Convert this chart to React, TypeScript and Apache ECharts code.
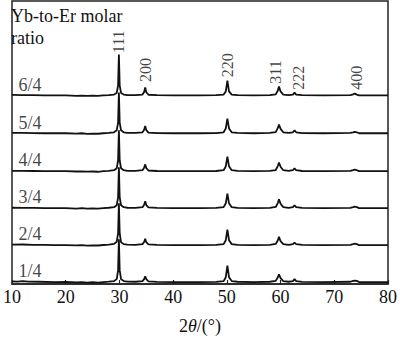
import React, { useEffect, useRef } from "react";
import * as echarts from "echarts";

const ratioLabels = ["1/4", "2/4", "3/4", "4/4", "5/4", "6/4"];
const offsets = [2, 40, 78, 116, 155, 194];

// [2θ, intensity] traces (intensity in plot units)
const s14 = [[10,0.8],[11,0.5],[12,1],[13,0.4],[15,0.3],[18,0],[20,0.2],[22,-0.4],[23,0],[24,-0.5],[25,-0.2],[26,-0.5],[27,0],[28,0.4],[29,1],[29.5,3],[29.75,12],[29.9,44],[30.05,12],[30.3,3],[30.8,1],[31.5,0.4],[33,0.3],[34.3,1],[34.6,3],[34.8,6],[35,3],[35.4,0.7],[37,0.2],[40,0],[45,0],[48,0.2],[49.4,1],[49.8,5],[50.1,17],[50.4,5],[50.9,1],[52,0.3],[55,0],[58,0.3],[59.1,1.2],[59.5,5],[59.7,8],[60,4],[60.5,1],[61.5,0.3],[62.3,1],[62.6,3],[62.9,1],[64,0.2],[68,0],[73,0.3],[73.5,1.2],[73.8,1.5],[74.2,1.2],[74.6,0],[80,0]];
const s24 = [[10,0.5],[12,0.6],[14,0.3],[16,0.2],[18,0],[20,0],[22,-0.3],[23,-0.1],[24,-0.6],[25,-0.2],[26,-0.4],[27,0.1],[28,0.5],[29,1.2],[29.5,3.5],[29.75,12],[29.9,43],[30.05,12],[30.3,3],[30.8,1],[31.5,0.4],[33,0.3],[34.3,1],[34.6,3.2],[34.8,6.5],[35,3],[35.4,0.7],[37,0.2],[40,0],[45,0],[48,0.2],[49.4,1],[49.8,5],[50.1,16],[50.4,5],[50.9,1],[52,0.3],[55,0],[58,0.3],[59.1,1.2],[59.5,5],[59.7,8.5],[60,4],[60.5,1],[61.5,0.3],[62.3,1],[62.6,2.5],[62.9,1],[64,0.2],[68,0],[73,0.3],[73.5,1],[73.8,1.5],[74.2,1],[74.6,0],[80,0]];
const s34 = [[10,0.4],[12,0.3],[14,0.2],[16,0],[18,0],[20,0],[22,-0.4],[23,0],[24,-0.5],[25,-0.3],[26,-0.5],[27,0],[28,0.4],[29,1],[29.5,3],[29.75,11],[29.9,42],[30.05,11],[30.3,3],[30.8,1],[31.5,0.4],[33,0.3],[34.3,1],[34.6,3.5],[34.8,7],[35,3.2],[35.4,0.7],[37,0.2],[40,0],[45,0],[48,0.2],[49.4,1],[49.8,5],[50.1,15],[50.4,5],[50.9,1],[52,0.3],[55,0],[58,0.3],[59.1,1.2],[59.5,5.5],[59.7,9],[60,4.5],[60.5,1],[61.5,0.3],[62.3,1],[62.6,3],[62.9,1],[64,0.2],[68,0],[73,0.3],[73.5,1],[73.8,1.5],[74.2,1],[74.6,0],[80,0]];
const s44 = [[10,0.4],[12,0.3],[14,0.2],[16,0],[18,0],[20,0],[22,-0.3],[23,-0.1],[24,-0.5],[25,-0.3],[26,-0.6],[27,0],[28,0.4],[29,1],[29.5,3],[29.75,11],[29.9,42],[30.05,11],[30.3,3],[30.8,1],[31.5,0.4],[33,0.3],[34.3,1],[34.6,3.5],[34.8,7],[35,3.2],[35.4,0.7],[37,0.2],[40,0],[45,0],[48,0.2],[49.4,1],[49.8,5],[50.1,15],[50.4,5],[50.9,1],[52,0.3],[55,0],[58,0.3],[59.1,1.2],[59.5,5.5],[59.7,9],[60,4.5],[60.5,1],[61.5,0.3],[62.3,1],[62.6,2.8],[62.9,1],[64,0.2],[68,0],[73,0.3],[73.5,1],[73.8,1.5],[74.2,1],[74.6,0],[80,0]];
const s54 = [[10,0.4],[12,0.3],[14,0.2],[16,0],[18,0],[20,0],[22,-0.4],[23,0],[24,-0.6],[25,-0.3],[26,-0.5],[27,0],[28,0.4],[29,1],[29.5,3],[29.75,11],[29.9,42],[30.05,11],[30.3,3],[30.8,1],[31.5,0.4],[33,0.3],[34.3,1],[34.6,3.5],[34.8,7.5],[35,3.2],[35.4,0.7],[37,0.2],[40,0],[45,0],[48,0.2],[49.4,1],[49.8,5],[50.1,15],[50.4,5],[50.9,1],[52,0.3],[55,0],[58,0.3],[59.1,1.2],[59.5,5.5],[59.7,9],[60,4.5],[60.5,1],[61.5,0.3],[62.3,1],[62.6,3],[62.9,1],[64,0.2],[68,0],[73,0.3],[73.5,1],[73.8,1.5],[74.2,1],[74.6,0],[80,0]];
const s64 = [[10,0.5],[12,0.3],[14,0.3],[16,0],[18,0],[20,0],[22,-0.5],[23,-0.2],[24,-0.6],[25,-0.3],[26,-0.5],[27,0],[28,0.3],[29,0.8],[29.5,2.5],[29.75,10],[29.9,42],[30.05,10],[30.3,2.5],[30.8,0.8],[31.5,0.3],[33,0.2],[34.3,0.8],[34.6,3.5],[34.8,8],[35,3.2],[35.4,0.6],[37,0.2],[40,0],[45,0],[48,0.2],[49.4,0.8],[49.8,4],[50.1,15],[50.4,4],[50.9,0.8],[52,0.2],[55,0],[58,0.3],[59.1,1],[59.5,5],[59.7,9],[60,4],[60.5,0.8],[61.5,0.3],[62.3,0.8],[62.6,2.8],[62.9,0.8],[64,0.2],[68,0],[73,0.2],[73.5,1],[73.8,1.8],[74.2,0.8],[74.6,0],[80,0]];
const traces = [s14, s24, s34, s44, s54, s64];

const peakNames = ["111", "200", "220", "311", "222", "400"];
const peakLabelX = [29.8, 34.9, 50.05, 59.1, 63.4, 74.2];
const peakLabelY = [249, 220, 225, 218, 212, 212];

const xTicks = [10, 20, 30, 40, 50, 60, 70, 80];

const FONT = "Liberation Serif";
const SERIF = "serif";

export default function App() {
  const ref = useRef<HTMLDivElement>(null);
  useEffect(() => {
    document.body.style.margin = "0";
    if (!ref.current) return;
    const chart = echarts.init(ref.current, null, { renderer: "svg" });
    const lineSeries = traces.map((tr, i) => ({
      type: "line",
      name: ratioLabels[i],
      data: tr.map((p) => [p[0], p[1] + offsets[i]]),
      showSymbol: false,
      symbol: "none",
      lineStyle: { color: "#111", width: 1.8 },
      z: 3,
      silent: true,
    }));
    const option = {
      animation: false,
      textStyle: { fontFamily: FONT },
      title: {
        text: "Yb-to-Er molar\nratio",
        left: 11,
        top: 5,
        padding: 0,
        textStyle: {
          fontFamily: FONT,
          fontSize: 18,
          fontWeight: "normal",
          color: "#111",
          lineHeight: 22,
        },
      },
      grid: {
        left: 4,
        right: 7,
        top: 1,
        bottom: 48,
        show: true,
        borderColor: "#222",
        borderWidth: 1.5,
        backgroundColor: "transparent",
      },
      xAxis: {
        type: "value",
        min: 10,
        max: 80,
        interval: 10,
        name: "{r|2}{i|θ}{r|/(°)}",
        nameLocation: "middle",
        nameGap: 33,
        nameTextStyle: {
          fontFamily: SERIF,
          fontSize: 18,
          color: "#111",
          rich: {
            r: { fontFamily: SERIF, fontSize: 18, color: "#111" },
            i: { fontFamily: SERIF, fontSize: 18, fontStyle: "italic", color: "#111" },
          },
        },
        axisLine: { show: true, lineStyle: { color: "#222", width: 1.5 } },
        axisTick: { show: true, inside: true, length: 4, lineStyle: { color: "#222", width: 1.2 } },
        axisLabel: {
          fontFamily: SERIF,
          fontSize: 18,
          color: "#111",
          margin: 4,
          showMinLabel: true,
          showMaxLabel: true,
          formatter: (v: number) => (xTicks.includes(v) ? String(v) : ""),
        },
        splitLine: { show: false },
      },
      yAxis: {
        type: "value",
        min: 0,
        max: 291,
        show: false,
      },
      series: [
        ...lineSeries,
        {
          type: "scatter",
          symbolSize: 0,
          silent: true,
          z: 5,
          data: peakNames.map((n, i) => ({ value: [peakLabelX[i], peakLabelY[i]], name: n })),
          label: {
            show: true,
            position: "inside",
            rotate: 90,
            formatter: (p: any) => p.name,
            fontFamily: FONT,
            fontSize: 16,
            color: "#111",
          },
        },
        {
          type: "scatter",
          symbolSize: 0,
          silent: true,
          z: 5,
          data: ratioLabels.map((n, i) => ({ value: [11.2, offsets[i] + 11], name: n })),
          label: {
            show: true,
            position: "right",
            distance: 0,
            formatter: (p: any) => p.name,
            fontFamily: FONT,
            fontSize: 18,
            color: "#111",
          },
        },
      ],
    };
    chart.setOption(option as any);
    return () => chart.dispose();
  }, []);
  return <div ref={ref} style={{ width: 400, height: 340 }} />;
}
